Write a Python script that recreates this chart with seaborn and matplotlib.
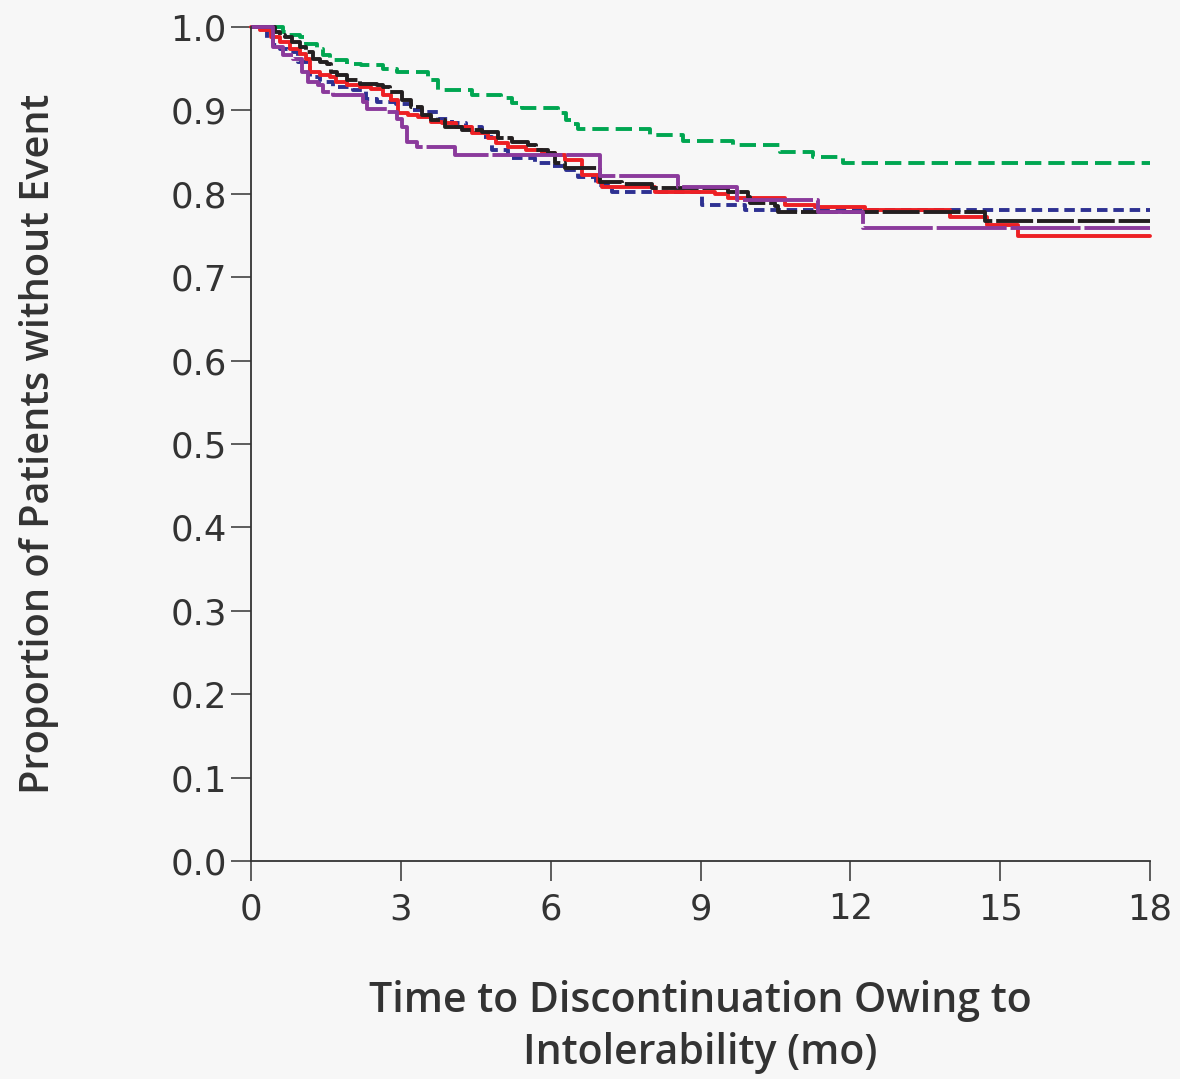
import matplotlib
matplotlib.use("Agg")
import matplotlib.pyplot as plt
import seaborn as sns
import pandas as pd

# ---- data (step points: time in months, proportion) ----
green_t = [0, 0.64, 0.75, 0.98, 1.1, 1.32, 1.45, 1.58, 1.92, 2.2, 2.64, 2.92, 3.54, 3.74, 4.42, 5.0, 5.23, 5.43, 6.15, 6.3, 6.45, 6.55, 7.99, 8.65, 9.65, 10.6, 11.25, 11.85, 18]
green_v = [1.0, 0.994, 0.990, 0.988, 0.980, 0.974, 0.966, 0.960, 0.956, 0.954, 0.950, 0.946, 0.936, 0.924, 0.918, 0.915, 0.909, 0.903, 0.897, 0.889, 0.884, 0.878, 0.870, 0.863, 0.859, 0.850, 0.844, 0.837, 0.837]

blue_t = [0, 0.32, 0.44, 0.58, 0.75, 0.95, 1.18, 1.38, 1.64, 2.04, 2.3, 2.52, 2.9, 3.2, 3.42, 3.74, 4.02, 4.3, 4.62, 4.83, 5.15, 5.69, 6.03, 6.3, 6.55, 6.9, 7.23, 9.03, 9.9, 18]
blue_v = [1.0, 0.986, 0.978, 0.974, 0.970, 0.958, 0.940, 0.934, 0.928, 0.924, 0.914, 0.910, 0.908, 0.900, 0.898, 0.890, 0.885, 0.880, 0.868, 0.853, 0.843, 0.837, 0.833, 0.829, 0.820, 0.810, 0.802, 0.787, 0.781, 0.781]

red_t = [0, 0.18, 0.4, 0.58, 0.78, 0.98, 1.1, 1.18, 1.38, 1.58, 1.7, 1.92, 2.18, 2.4, 2.64, 2.8, 2.94, 3.14, 3.34, 3.6, 3.82, 4.1, 4.43, 4.75, 4.9, 5.15, 5.5, 5.83, 6.09, 6.29, 6.63, 6.95, 7.03, 8.09, 9.3, 9.55, 10.69, 11.29, 12.3, 14.0, 14.74, 15.35, 18]
red_v = [1.0, 0.996, 0.988, 0.982, 0.974, 0.968, 0.962, 0.946, 0.942, 0.940, 0.934, 0.930, 0.928, 0.926, 0.918, 0.913, 0.897, 0.894, 0.892, 0.886, 0.885, 0.880, 0.873, 0.867, 0.861, 0.856, 0.853, 0.849, 0.847, 0.840, 0.823, 0.814, 0.808, 0.802, 0.800, 0.795, 0.787, 0.784, 0.781, 0.772, 0.762, 0.749, 0.749]

black_t = [0, 0.48, 0.58, 0.68, 0.82, 0.98, 1.1, 1.24, 1.38, 1.52, 1.6, 1.72, 1.92, 2.18, 2.52, 2.65, 2.78, 3.02, 3.2, 3.42, 3.6, 3.88, 4.22, 4.62, 4.95, 5.23, 5.55, 5.7, 5.95, 6.09, 6.29, 6.99, 7.43, 8.03, 9.55, 9.95, 10.0, 10.49, 10.55, 14.7, 18]
black_v = [1.0, 0.994, 0.990, 0.988, 0.982, 0.976, 0.970, 0.962, 0.958, 0.956, 0.946, 0.942, 0.936, 0.932, 0.930, 0.928, 0.922, 0.913, 0.904, 0.894, 0.888, 0.880, 0.877, 0.874, 0.867, 0.862, 0.859, 0.853, 0.849, 0.837, 0.831, 0.814, 0.812, 0.807, 0.802, 0.796, 0.789, 0.785, 0.778, 0.767, 0.767]

purple_t = [0, 0.44, 0.64, 0.84, 1.02, 1.14, 1.35, 1.44, 1.64, 2.24, 2.32, 2.72, 2.92, 3.02, 3.12, 3.32, 4.08, 6.99, 8.55, 9.73, 11.35, 12.25, 18]
purple_v = [1.0, 0.976, 0.966, 0.962, 0.946, 0.934, 0.930, 0.922, 0.918, 0.910, 0.902, 0.898, 0.890, 0.880, 0.862, 0.856, 0.847, 0.821, 0.808, 0.793, 0.778, 0.759, 0.759]

x_ticks = [0, 3, 6, 9, 12, 15, 18]
y_ticks = [0.0, 0.1, 0.2, 0.3, 0.4, 0.5, 0.6, 0.7, 0.8, 0.9, 1.0]
y_label = "Proportion of Patients without Event"
x_label = "Time to Discontinuation Owing to\nIntolerability (mo)"

groups = {
    "blue": (blue_t, blue_v),
    "green": (green_t, green_v),
    "red": (red_t, red_v),
    "black": (black_t, black_v),
    "purple": (purple_t, purple_v),
}
palette = {"blue": "#2e3192", "green": "#00a651", "red": "#ed2024",
           "black": "#231f20", "purple": "#8b3a9c"}
dashes = {"blue": (2.7, 1.5), "green": (4.2, 1.8), "red": "",
          "black": (9.5, 1.0), "purple": (18, 1.0)}

rows = []
for g, (ts, vs) in groups.items():
    for t, v in zip(ts, vs):
        rows.append({"group": g, "t": t, "v": v})
df = pd.DataFrame(rows)

sns.set_theme(style="ticks")
plt.rcParams["font.family"] = ["Open Sans", "DejaVu Sans"]
tick_font = ["DejaVu Sans"]

bg = "#f7f7f7"
fig = plt.figure(figsize=(11.8, 10.79), dpi=100, facecolor=bg)
ax = fig.add_axes([251 / 1180, 1 - 861 / 1079, 899 / 1180, 834 / 1079])
ax.set_facecolor(bg)

sns.lineplot(data=df, x="t", y="v", hue="group", style="group",
             palette=palette, dashes=dashes, drawstyle="steps-post",
             estimator=None, sort=False, legend=False, linewidth=2.8, ax=ax)

ax.set_xlim(0, 18)
ax.set_ylim(0, 1.0)
ax.set_xticks(x_ticks)
ax.set_xticklabels([str(x) for x in x_ticks], family=tick_font, fontsize=25.5)
ax.set_yticks(y_ticks)
ax.set_yticklabels([f"{y:.1f}" for y in y_ticks], family=tick_font, fontsize=25.5)
for sp in ["top", "right"]:
    ax.spines[sp].set_visible(False)
for sp in ["left", "bottom"]:
    ax.spines[sp].set_color("#333333")
    ax.spines[sp].set_linewidth(1.3)

ax.tick_params(axis="both", direction="out", length=14.5, width=1.1,
               color="#333333", labelcolor="#333333")
ax.tick_params(axis="y", pad=3)
ax.tick_params(axis="x", pad=8)
for line in ax.lines:
    line.set_clip_on(False)

ax.set_ylabel(y_label, fontsize=28.5, fontweight="semibold", color="#333333")
ax.yaxis.set_label_coords(-0.214, 0.5)
ax.set_xlabel(x_label, fontsize=29.5, fontweight="semibold", color="#333333",
              linespacing=1.29, va="top")
ax.xaxis.set_label_coords(0.5, -0.143)

fig.savefig("out.png", dpi=100, facecolor=bg)
